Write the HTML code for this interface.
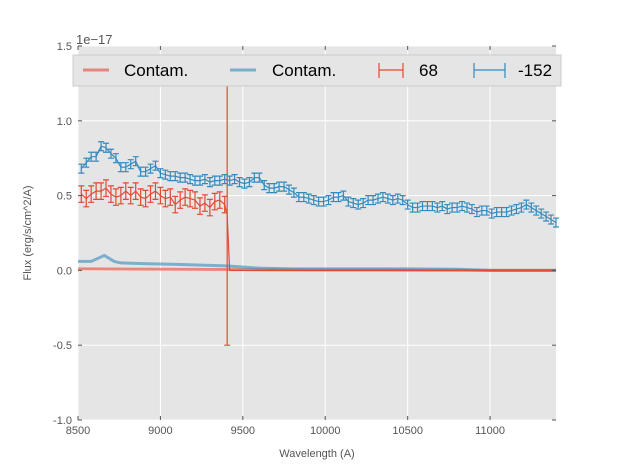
<!DOCTYPE html>
<html><head><meta charset="utf-8"><style>
body{margin:0;background:#fff;}
svg{display:block;font-family:"Liberation Sans",sans-serif;}
</style></head><body>
<svg id="chart" width="617" height="467">
<rect x="78" y="46" width="478" height="374" fill="#e5e5e5"/>
<g id="grid"></g>
<g id="series"></g>
<g id="axes"></g>
<text x="76" y="44" font-size="13" fill="#555">1e−17</text>
<text x="317" y="457" font-size="11" fill="#555" text-anchor="middle">Wavelength (A)</text>
<text x="31" y="233" font-size="11" fill="#555" text-anchor="middle" transform="rotate(-90 31 233)">Flux (erg/s/cm^2/A)</text>
<g>
<rect x="73" y="55" width="488" height="31" fill="#e5e5e5" stroke="#ccc" stroke-width="1"/>
<line x1="83" y1="70" x2="109" y2="70" stroke="#E24A33" stroke-opacity="0.6" stroke-width="3"/>
<text x="124" y="76" font-size="17" fill="#000">Contam.</text>
<line x1="230" y1="70" x2="256" y2="70" stroke="#348ABD" stroke-opacity="0.6" stroke-width="3"/>
<text x="272" y="76" font-size="17" fill="#000">Contam.</text>
<path d="M379 70H403M379 63V78M403 63V78" stroke="#E24A33" stroke-width="1.2" fill="none"/>
<text x="419" y="76" font-size="17" fill="#000">68</text>
<path d="M474 70H505M474 63V78M505 63V78" stroke="#348ABD" stroke-width="1.2" fill="none"/>
<text x="518" y="76" font-size="17" fill="#000">-152</text>
</g>
</svg>
<script>
const xTicks=[8500,9000,9500,10000,10500,11000];
const yTicks=[-1.0,-0.5,0.0,0.5,1.0,1.5];
const yTickLabels=["-1.0","-0.5","0.0","0.5","1.0","1.5"];
const blueStart=8520, blueStep=30;
const blueFlux=[0.68,0.72,0.76,0.76,0.83,0.82,0.78,0.75,0.69,0.69,0.71,0.73,0.66,0.66,0.68,0.70,0.65,0.64,0.63,0.63,0.62,0.62,0.61,0.60,0.60,0.61,0.59,0.60,0.60,0.61,0.60,0.61,0.59,0.58,0.59,0.62,0.62,0.57,0.55,0.55,0.56,0.56,0.54,0.52,0.49,0.49,0.48,0.47,0.46,0.46,0.47,0.49,0.49,0.50,0.46,0.45,0.44,0.45,0.47,0.47,0.48,0.49,0.48,0.47,0.48,0.47,0.44,0.42,0.42,0.43,0.43,0.43,0.42,0.43,0.41,0.42,0.42,0.43,0.42,0.41,0.39,0.40,0.40,0.38,0.39,0.39,0.39,0.40,0.41,0.42,0.44,0.42,0.40,0.38,0.36,0.34,0.32];
const blueErr=0.03;
const redStart=8520, redStep=30;
const redFlux=[0.51,0.48,0.51,0.53,0.53,0.55,0.51,0.49,0.50,0.53,0.50,0.53,0.49,0.48,0.51,0.53,0.50,0.48,0.49,0.44,0.47,0.49,0.48,0.47,0.43,0.45,0.42,0.46,0.47,0.44];
const redErr=0.055;
const redSpikeX=9405, redSpikeY=0.37, redSpikeErr=0.87;
const redTailX=[9420,11400];
const redTailY=[0.0,0.0];
const contamRedX=[8500,9000,9500,10000,10500,11000,11400];
const contamRedY=[0.01,0.008,0.005,0.003,0.002,0.0,0.0];
const contamBlueX=[8500,8580,8620,8660,8690,8720,8760,8900,9100,9400,9600,9800,10500,10800,11000,11400];
const contamBlueY=[0.06,0.06,0.08,0.10,0.08,0.06,0.05,0.045,0.04,0.03,0.015,0.01,0.01,0.008,0.0,0.0];

const X0=78,X1=556,Y0=420,Y1=46;
const xs=v=>X0+(v-8500)/(11400-8500)*(X1-X0);
const ys=v=>Y0-(v+1.0)/2.5*(Y0-Y1);
const NS="http://www.w3.org/2000/svg";
function mk(tag,attrs,parent){const e=document.createElementNS(NS,tag);for(const k in attrs)e.setAttribute(k,attrs[k]);parent.appendChild(e);return e;}
const grid=document.getElementById('grid'),axes=document.getElementById('axes'),ser=document.getElementById('series');
xTicks.forEach(t=>{
 const l=mk('line',{x1:xs(t),x2:xs(t),y1:Y1,y2:Y0,stroke:'#fff','stroke-width':1},grid);
 
 mk('line',{x1:xs(t),x2:xs(t),y1:Y0,y2:Y0-4,stroke:'#555'},axes);
 mk('line',{x1:xs(t),x2:xs(t),y1:Y1,y2:Y1+4,stroke:'#555'},axes);
 const tx=mk('text',{x:xs(t),y:Y0+14,'font-size':11,fill:'#555','text-anchor':'middle'},axes);
 tx.textContent=t;
 
});
yTicks.forEach((t,i)=>{
 const l=mk('line',{x1:X0,x2:X1,y1:ys(t),y2:ys(t),stroke:'#fff','stroke-width':1},grid);
 
 mk('line',{x1:X0,x2:X0+4,y1:ys(t),y2:ys(t),stroke:'#555'},axes);
 mk('line',{x1:X1,x2:X1-4,y1:ys(t),y2:ys(t),stroke:'#555'},axes);
 const tx=mk('text',{x:X0-6,y:ys(t)+4,'font-size':11,fill:'#555','text-anchor':'end'},axes);
 tx.textContent=yTickLabels[i];
 
});
function poly(xa,ya,style,name){
 const p=mk('polyline',Object.assign({points:xa.map((x,i)=>xs(x)+','+ys(ya[i])).join(' '),fill:'none'},style),ser);
 
}
poly(contamRedX,contamRedY,{stroke:'#E24A33','stroke-opacity':0.6,'stroke-width':3},'contam-red-line');
poly(contamBlueX,contamBlueY,{stroke:'#348ABD','stroke-opacity':0.6,'stroke-width':3},'contam-blue-line');
function errs(xa,ya,err,color,name){
 xa.forEach((x,i)=>{
  const cx=xs(x),t=ys(ya[i]+err),b=ys(ya[i]-err);
  const p=mk('path',{d:`M${cx} ${t}V${b}M${cx-3} ${t}H${cx+3}M${cx-3} ${b}H${cx+3}`,stroke:color,'stroke-width':1.2,fill:'none'},ser);
  
 });
}
const redX=redFlux.map((v,i)=>redStart+i*redStep);
const blueX=blueFlux.map((v,i)=>blueStart+i*blueStep);
poly(redX.concat([redSpikeX],redTailX),redFlux.concat([redSpikeY],redTailY),{stroke:'#E24A33','stroke-width':1.2},'series-68-line');
errs(redX,redFlux,redErr,'#E24A33','series-68');
{const cx=xs(redSpikeX);const p=mk('path',{d:`M${cx} ${ys(redSpikeY+redSpikeErr)}V${ys(redSpikeY-redSpikeErr)}M${cx-3} ${ys(redSpikeY-redSpikeErr)}H${cx+3}`,stroke:'#E24A33','stroke-width':1.2,fill:'none'},ser);
}
poly(blueX,blueFlux,{stroke:'#348ABD','stroke-width':1.2},'series-minus152-line');
errs(blueX,blueFlux,blueErr,'#348ABD','series-minus152');
</script>
</body></html>
